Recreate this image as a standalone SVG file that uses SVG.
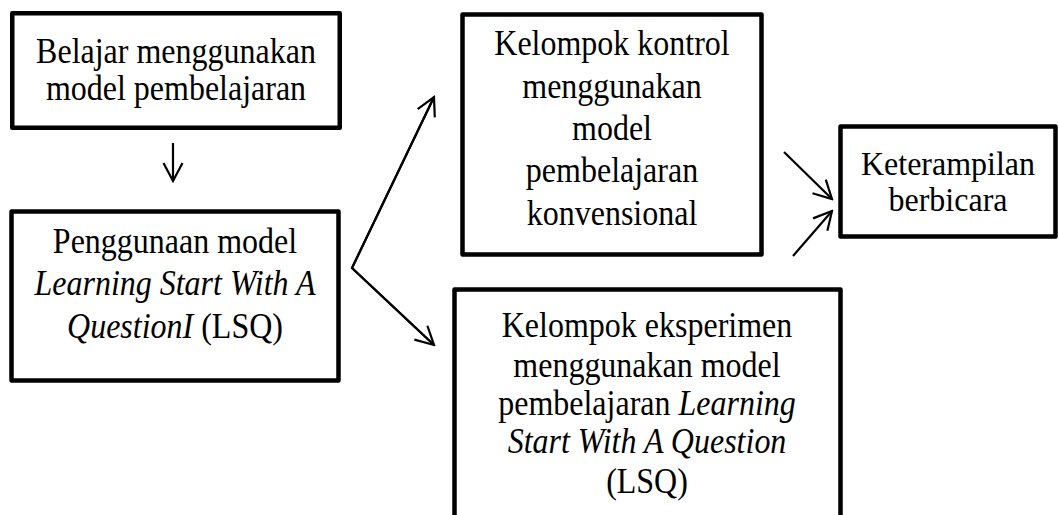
<svg xmlns="http://www.w3.org/2000/svg" width="1059" height="515" viewBox="0 0 1059 515">
<style>
.box{fill:#fff;stroke:#000;stroke-width:4.5;stroke-linejoin:round}
.t{font-family:"Liberation Serif","Times New Roman",serif;font-size:32px;fill:#000;text-anchor:middle}
.i{font-style:italic}
.c{fill:none;stroke:#000;stroke-width:2.2;stroke-linejoin:miter}
</style>
<defs>
<marker id="ah" markerUnits="userSpaceOnUse" viewBox="0 0 22 22" refX="20" refY="11" markerWidth="22" markerHeight="22" orient="auto">
<path d="M2,1.5 L20,11 L2,20.5" fill="none" stroke="#000" stroke-width="2.2"/>
</marker>
</defs>
<rect width="1059" height="515" fill="#fff"/>
<g id="connectors">
<line class="c" x1="173" y1="143" x2="173" y2="181" marker-end="url(#ah)"/>
<polyline class="c" points="434,97 352,268 434,345"/>
<line class="c" x1="352" y1="268" x2="434" y2="97" marker-end="url(#ah)"/>
<line class="c" x1="352" y1="268" x2="434" y2="345" marker-end="url(#ah)"/>
<line class="c" x1="784" y1="152" x2="832" y2="199" marker-end="url(#ah)"/>
<line class="c" x1="793" y1="256" x2="832" y2="211" marker-end="url(#ah)"/>
</g>
<g id="n1">
<rect class="box" x="12.25" y="13.25" width="327.5" height="114.5"/>
<text class="t" transform="translate(176,63) scale(1,1.15)">Belajar menggunakan</text>
<text class="t" transform="translate(176,100) scale(1,1.15)">model pembelajaran</text>
</g>
<g id="n2">
<rect class="box" x="11.5" y="211.5" width="327" height="169"/>
<text class="t" transform="translate(175,253) scale(1,1.15)">Penggunaan model</text>
<text class="t i" transform="translate(175,295) scale(1,1.15)">Learning Start With A</text>
<text class="t" transform="translate(175,338) scale(1,1.15)"><tspan class="i">QuestionI</tspan> (LSQ)</text>
</g>
<g id="n3">
<rect class="box" x="462.5" y="14.5" width="299" height="240"/>
<text class="t" transform="translate(612,55) scale(1,1.15)">Kelompok kontrol</text>
<text class="t" transform="translate(612,98) scale(1,1.15)">menggunakan</text>
<text class="t" transform="translate(612,140) scale(1,1.15)">model</text>
<text class="t" transform="translate(612,182) scale(1,1.15)">pembelajaran</text>
<text class="t" transform="translate(612,225) scale(1,1.15)">konvensional</text>
</g>
<g id="n4">
<rect class="box" x="454.5" y="289.5" width="386" height="300"/>
<text class="t" transform="translate(647,337) scale(1,1.15)">Kelompok eksperimen</text>
<text class="t" transform="translate(647,377) scale(1,1.15)">menggunakan model</text>
<text class="t" transform="translate(647,415) scale(1,1.15)">pembelajaran <tspan class="i">Learning</tspan></text>
<text class="t i" transform="translate(647,453) scale(1,1.15)">Start With A Question</text>
<text class="t" transform="translate(647,493) scale(1,1.15)">(LSQ)</text>
</g>
<g id="n5">
<rect class="box" x="840.5" y="126.5" width="215" height="110"/>
<text class="t" transform="translate(948,175) scale(1,1.05)">Keterampilan</text>
<text class="t" transform="translate(948,211) scale(1,1.05)">berbicara</text>
</g>
</svg>
